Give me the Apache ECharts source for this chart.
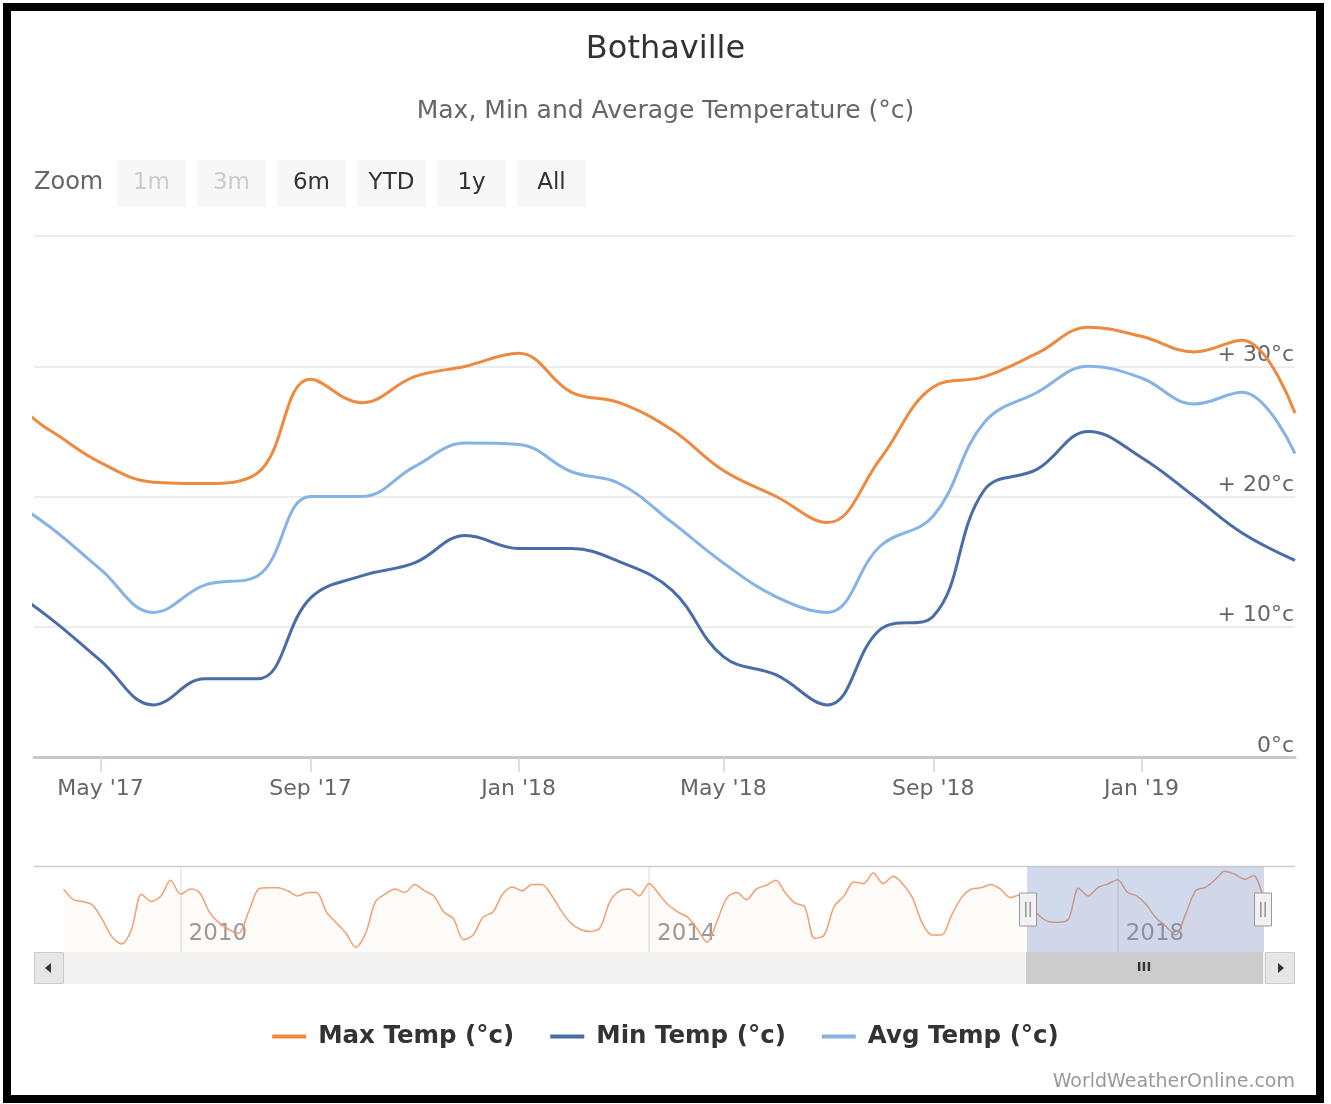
<!DOCTYPE html>
<html>
<head>
<meta charset="utf-8">
<script src="https://cdn.jsdelivr.net/npm/echarts@6/dist/echarts.min.js"></script>
<style>
html, body { margin: 0; padding: 0; background: #ffffff; }
#chart { width: 1331px; height: 1104px; }
</style>
</head>
<body>
<div id="chart"></div>
<script>
// ---------------- DATA ----------------
const seriesNames = ['Max Temp (°c)', 'Min Temp (°c)', 'Avg Temp (°c)'];

// Monthly max temperature history, Jan 2009 .. Apr 2019 (navigator + main chart)
const maxStartMonth = '2009-01';
const maxTemp = [
  28.8, 26.3, 25.9, 25.1, 21.8, 17.6, 15.9, 19.3, 27.6, 25.9, 27.2, 30.9, // 2009
  27.6, 28.8, 28.0, 23.4, 20.9, 19.3, 18.4, 23.4, 28.8, 29.1, 29.1, 28.4, // 2010
  27.2, 28.0, 28.0, 23.4, 20.9, 18.4, 15.1, 18.4, 25.9, 27.6, 28.8, 28.0, // 2011
  29.9, 28.4, 27.2, 23.4, 21.8, 16.9, 18.0, 22.2, 23.4, 27.6, 29.3, 28.4, // 2012
  29.9, 29.9, 27.6, 23.8, 20.9, 19.3, 18.8, 19.7, 25.9, 28.4, 28.8, 27.2, // 2013
  30.1, 27.6, 25.1, 23.4, 22.2, 19.3, 16.3, 21.3, 26.8, 28.0, 26.3, 28.8, // 2014
  29.7, 30.9, 28.0, 25.5, 24.7, 17.2, 18.0, 24.7, 27.2, 30.5, 30.1, 32.6, // 2015
  30.1, 31.8, 30.1, 26.8, 20.9, 18.0, 18.0, 22.6, 26.8, 28.8, 29.1, 29.9, // 2016
  28.8, 26.8, 27.4, 25.1, 22.6, 21.1, 21.0, 21.8, 29.0, 27.2, 29.2, 30.0, // 2017
  31.0, 28.0, 27.2, 25.1, 22.0, 20.0, 18.0, 22.9, 28.4, 29.2, 31.0, 33.0, // 2018
  32.3, 31.1, 32.0, 26.4                                                  // 2019
];

// Monthly min / average temperature, Mar 2017 .. Apr 2019
const minAvgStartMonth = '2017-03';
const minTemp = [
  13.6, 10.7, 7.4, 4.0, 6.0, 6.0, 12.2, 13.9, 14.9, 17.0,
  16.0, 16.0, 15.0, 12.8, 7.7, 6.3, 4.0, 9.8, 10.8, 20.5, 22.1, 25.0,
  23.0, 20.0, 17.2, 15.1
];
const avgTemp = [
  20.4, 17.7, 14.4, 11.1, 13.2, 13.9, 20.0, 20.0, 22.3, 24.1,
  24.0, 21.9, 21.0, 18.0, 14.9, 12.3, 11.1, 16.2, 18.5, 25.7, 28.0, 30.0,
  29.1, 27.1, 28.0, 23.3
];

// Axis ticks / labels
const xTickDates = ['2017-05-01', '2017-09-01', '2018-01-01', '2018-05-01', '2018-09-01', '2019-01-01'];
const xTickLabels = ["May '17", "Sep '17", "Jan '18", "May '18", "Sep '18", "Jan '19"];
const navTickDates = ['2010-01-01', '2014-01-01', '2018-01-01'];
const navTickLabels = ['2010', '2014', '2018'];
const yTickValues = [0, 10, 20, 30, 40];
const yTickLabels = ['0°c', '+ 10°c', '+ 20°c', '+ 30°c', ''];

// Visible window of the main chart
const viewStart = '2017-03-23';
const viewEnd = '2019-04-01';

// Range selector buttons
const zoomButtons = ['1m', '3m', '6m', 'YTD', '1y', 'All'];
const zoomDisabled = ['1m', '3m'];

const titleText = 'Bothaville';
const subtitleText = 'Max, Min and Average Temperature (°c)';
const creditText = 'WorldWeatherOnline.com';

// ---------------- HELPERS ----------------
const DAY = 86400000;
function ts(s) {
  const p = s.split('-').map(Number);
  return new Date(p[0], p[1] - 1, p[2] || 1).getTime();
}
function monthSeq(start, n) {
  const p = start.split('-').map(Number);
  const out = [];
  for (let i = 0; i < n; i++) {
    const t = (p[1] - 1) + i;
    out.push(new Date(p[0] + Math.floor(t / 12), t % 12, 1).getTime());
  }
  return out;
}
const maxDates = monthSeq(maxStartMonth, maxTemp.length);
const minAvgDates = monthSeq(minAvgStartMonth, minTemp.length);
const maxData = maxTemp.map((v, i) => [maxDates[i], v]);
const minData = minTemp.map((v, i) => [minAvgDates[i], v]);
const avgData = avgTemp.map((v, i) => [minAvgDates[i], v]);

const xTickVals = xTickDates.map(ts);
const xLabelMap = {};
xTickVals.forEach((v, i) => { xLabelMap[v] = xTickLabels[i]; });
const navTickVals = navTickDates.map(ts);
const navLabelMap = {};
navTickVals.forEach((v, i) => { navLabelMap[v] = navTickLabels[i]; });
const yLabelMap = {};
yTickValues.forEach((v, i) => { yLabelMap[v] = yTickLabels[i]; });

const FONT = 'DejaVu Sans';
const colors = ['#ed8a3f', '#4a6da7', '#86b3e5'];

// ---------------- GRAPHICS (UI decorations) ----------------
const graphics = [];
// outer frame
graphics.push({ type: 'rect', shape: { x: 7, y: 7, width: 1313, height: 1092 }, style: { fill: 'none', stroke: '#000', lineWidth: 8 }, z: 100, silent: true });
// Zoom label + buttons
graphics.push({ type: 'text', x: 34, y: 183, style: { text: 'Zoom', fill: '#666', font: '24px ' + FONT, verticalAlign: 'middle' } });
zoomButtons.forEach((b, i) => {
  const x0 = 117 + i * 80;
  graphics.push({ type: 'rect', shape: { x: x0, y: 160, width: 69, height: 47 }, style: { fill: '#f7f7f7' } });
  graphics.push({ type: 'text', x: x0 + 34.5, y: 183, style: { text: b, fill: zoomDisabled.indexOf(b) >= 0 ? '#cccccc' : '#333333', font: '23px ' + FONT, align: 'center', verticalAlign: 'middle' } });
});
// navigator top outline
graphics.push({ type: 'line', shape: { x1: 34, y1: 866.5, x2: 1295, y2: 866.5 }, style: { stroke: '#cccccc', lineWidth: 1.5 }, silent: true });
// scrollbar track + arrow buttons
graphics.push({ type: 'rect', shape: { x: 34, y: 952, width: 1261, height: 32 }, style: { fill: '#f2f2f2' }, silent: true, z: -1 });
graphics.push({ type: 'rect', shape: { x: 34.5, y: 952.5, width: 29, height: 31 }, style: { fill: '#e6e6e6', stroke: '#cccccc', lineWidth: 1 }, silent: true });
graphics.push({ type: 'polygon', shape: { points: [[45, 968], [51, 963], [51, 973]] }, style: { fill: '#333' }, silent: true });
graphics.push({ type: 'rect', shape: { x: 1265.5, y: 952.5, width: 29, height: 31 }, style: { fill: '#e6e6e6', stroke: '#cccccc', lineWidth: 1 }, silent: true });
graphics.push({ type: 'polygon', shape: { points: [[1284, 968], [1278, 963], [1278, 973]] }, style: { fill: '#333' }, silent: true });
// scrollbar grip
graphics.push({ type: 'text', x: 1144, y: 968, z: 50, style: { text: 'III', fill: '#333', font: 'bold 13px ' + FONT, align: 'center', verticalAlign: 'middle' }, silent: true });
// credits
graphics.push({ type: 'text', x: 1295, y: 1082, style: { text: creditText, fill: '#999', font: '19px ' + FONT, align: 'right', verticalAlign: 'middle' } });

// ---------------- CHART ----------------
const chart = echarts.init(document.getElementById('chart'), null, { renderer: 'canvas' });
const sliderCommon = {
  type: 'slider', xAxisIndex: 0, filterMode: 'none',
  startValue: ts(viewStart), endValue: ts(viewEnd),
  left: 63, right: 68,
  showDataShadow: false, showDetail: false, brushSelect: false,
  backgroundColor: 'rgba(0,0,0,0)', borderColor: 'rgba(0,0,0,0)',
  moveHandleSize: 0,
  moveHandleStyle: { opacity: 0 }
};
const option = {
  animation: false,
  backgroundColor: '#ffffff',
  textStyle: { fontFamily: FONT },
  color: colors,
  title: [
    { text: titleText, left: 'center', top: 29, textStyle: { fontFamily: FONT, fontSize: 32, fontWeight: 'normal', color: '#333' } },
    { text: subtitleText, left: 'center', top: 94, textStyle: { fontFamily: FONT, fontSize: 25, fontWeight: 'normal', color: '#666' } }
  ],
  legend: {
    data: seriesNames,
    top: 1019, left: 'center',
    icon: 'rect', itemWidth: 34, itemHeight: 4, itemGap: 36,
    textStyle: { fontFamily: FONT, fontSize: 24.5, fontWeight: 'bold', color: '#333', padding: [0, 0, 0, 7] }
  },
  grid: [
    { left: 34, right: 36, top: 236, bottom: 347, outerBoundsMode: 'none', containLabel: false },
    { left: 34, right: 36, top: 867, height: 85, outerBoundsMode: 'none', containLabel: false }
  ],
  xAxis: [
    {
      type: 'value', gridIndex: 0, min: 'dataMin', max: 'dataMax',
      axisLine: { show: true, lineStyle: { color: '#c8c8c8', width: 3 } },
      axisTick: { show: true, customValues: xTickVals, length: 15, lineStyle: { color: '#ccd6eb', width: 1.5 } },
      axisLabel: { customValues: xTickVals, formatter: v => xLabelMap[v] || '', color: '#666', fontSize: 22, fontFamily: FONT, margin: 21, hideOverlap: false },
      splitLine: { show: false }
    },
    {
      type: 'value', gridIndex: 1,
      min: v => v.min - 92 * DAY, max: v => v.max + 98 * DAY,
      axisLine: { show: false },
      axisTick: { show: true, inside: true, customValues: navTickVals, length: 85, lineStyle: { color: '#e6e6e6', width: 1.5 } },
      axisLabel: { inside: true, customValues: navTickVals, formatter: v => navLabelMap[v] || '', color: '#999', fontSize: 23, fontFamily: FONT, align: 'left', padding: [0, 0, 0, 8], margin: 6 },
      splitLine: { show: false }
    }
  ],
  yAxis: [
    {
      type: 'value', gridIndex: 0, min: 0, max: 40, interval: 10, position: 'right',
      axisLine: { show: false }, axisTick: { show: false },
      splitLine: { show: true, lineStyle: { color: '#e6e6e6', width: 1.5 } },
      axisLabel: { inside: true, margin: 1, verticalAlign: 'bottom', formatter: v => (yLabelMap[v] !== undefined ? yLabelMap[v] : ''), color: '#666', fontSize: 22, fontFamily: FONT }
    },
    { type: 'value', gridIndex: 1, min: 14, max: 34, show: false }
  ],
  dataZoom: [
    Object.assign({}, sliderCommon, {
      top: 867, height: 85,
      fillerColor: 'rgba(102,133,194,0.3)',
      handleIcon: 'path://M0,0H17V33H0Z M6,9H6.6V24H6Z M10.4,9H11V24H10.4Z',
      handleSize: 33,
      handleStyle: { color: '#f2f2f2', borderColor: '#999999', borderWidth: 1 },
      emphasis: { handleStyle: { borderColor: '#999999' } },
      z: 10
    }),
    Object.assign({}, sliderCommon, {
      top: 952, height: 32,
      fillerColor: '#cccccc',
      handleIcon: 'none',
      handleSize: 0,
      handleStyle: { opacity: 0 },
      z: 9
    })
  ],
  series: [
    {
      name: seriesNames[0], type: 'line', xAxisIndex: 0, yAxisIndex: 0,
      data: maxData, smooth: 0.4, showSymbol: false, clip: true,
      lineStyle: { width: 3, color: colors[0] }, itemStyle: { color: colors[0] }, z: 3
    },
    {
      name: seriesNames[1], type: 'line', xAxisIndex: 0, yAxisIndex: 0,
      data: minData, smooth: 0.4, showSymbol: false, clip: true,
      lineStyle: { width: 3, color: colors[1] }, itemStyle: { color: colors[1] }, z: 3
    },
    {
      name: seriesNames[2], type: 'line', xAxisIndex: 0, yAxisIndex: 0,
      data: avgData, smooth: 0.4, showSymbol: false, clip: true,
      lineStyle: { width: 3, color: colors[2] }, itemStyle: { color: colors[2] }, z: 3
    },
    {
      name: 'navigator', type: 'line', xAxisIndex: 1, yAxisIndex: 1,
      data: maxData, smooth: 0.3, showSymbol: false, silent: true,
      lineStyle: { width: 1.5, color: '#f0a070' },
      areaStyle: { color: 'rgba(242,143,67,0.05)' }
    }
  ],
  graphic: graphics
};
chart.setOption(option);
</script>
</body>
</html>
